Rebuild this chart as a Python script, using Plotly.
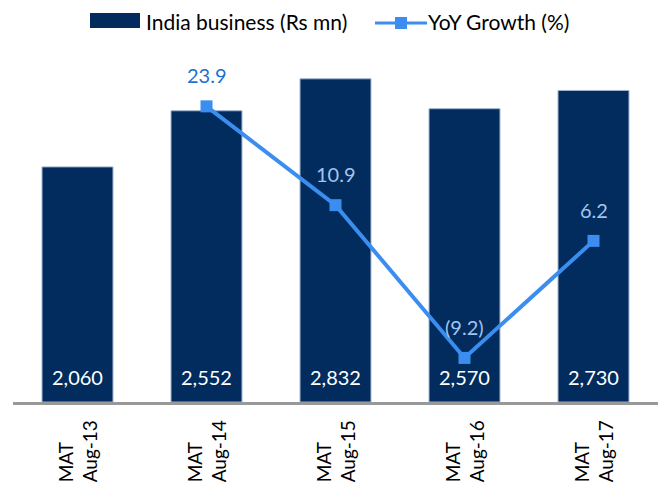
import plotly.graph_objects as go

categories = ["MAT<br>Aug-13", "MAT<br>Aug-14", "MAT<br>Aug-15", "MAT<br>Aug-16", "MAT<br>Aug-17"]
india_business = [2060, 2552, 2832, 2570, 2730]
yoy_growth = [None, 23.9, 10.9, -9.2, 6.2]
bar_name = "India business (Rs mn)"
line_name = "YoY Growth (%)"

NAVY = "#012C5D"
BLUE = "#3B8EEF"
FONT = "Lato"

fig = go.Figure()
fig.add_trace(go.Bar(
    x=categories, y=india_business, name=bar_name,
    marker=dict(color=NAVY, line=dict(color="#9DB3CF", width=1)),
    showlegend=False, hoverinfo="skip",
))
fig.add_trace(go.Scatter(
    x=categories, y=yoy_growth, name=line_name, yaxis="y2",
    mode="lines+markers",
    line=dict(color=BLUE, width=4),
    marker=dict(symbol="square", size=12, color=BLUE),
    showlegend=False, connectgaps=False, hoverinfo="skip",
))

annotations = []
for c, v in zip(categories, india_business):
    annotations.append(dict(x=c, y=0, xref="x", yref="y", text=f"{v:,}", showarrow=False,
                            yshift=25, font=dict(family=FONT, size=20, color="white")))
for i, (c, g) in enumerate(zip(categories, yoy_growth)):
    if g is None:
        continue
    txt = f"({abs(g):.1f})" if g < 0 else f"{g:.1f}"
    col = "#1F6FD3" if i == 1 else "#A3C4EE"
    annotations.append(dict(x=c, y=g, xref="x", yref="y2", text=txt, showarrow=False,
                            yshift=31, font=dict(family=FONT, size=20, color=col)))
for c in categories:
    annotations.append(dict(x=c, y=-0.218, xref="x", yref="paper", text=c, showarrow=False,
                            textangle=-90, align="left", yanchor="bottom",
                            font=dict(family=FONT, size=19, color="black")))

fig.update_layout(
    width=658, height=488,
    margin=dict(l=13, r=0, t=22, b=86),
    paper_bgcolor="white", plot_bgcolor="white",
    bargap=0.45,
    xaxis=dict(showline=True, linecolor="#999999", linewidth=3, showticklabels=False,
               ticks="", showgrid=False, zeroline=False),
    yaxis=dict(range=[0, 3330], visible=False, showgrid=False, zeroline=False),
    yaxis2=dict(range=[-15, 35], overlaying="y", visible=False, showgrid=False, zeroline=False),
    showlegend=False,
)
W, H = 658.0, 488.0
def px(x):
    return (x - 13) / (W - 13)
def py(y):
    return (402 - y) / 380.0
shapes = [
    dict(type="rect", xref="paper", yref="paper", x0=px(90), x1=px(140), y0=py(28), y1=py(13),
         fillcolor=NAVY, line=dict(width=0)),
    dict(type="line", xref="paper", yref="paper", x0=px(375), x1=px(427), y0=py(23), y1=py(23),
         line=dict(color=BLUE, width=3)),
    dict(type="rect", xref="paper", yref="paper", x0=px(395), x1=px(407), y0=py(29), y1=py(17),
         fillcolor=BLUE, line=dict(width=0)),
]
annotations.append(dict(x=px(144), y=py(21), xref="paper", yref="paper", text=bar_name,
                        showarrow=False, xanchor="left", yanchor="middle",
                        font=dict(family=FONT, size=21, color="black")))
annotations.append(dict(x=px(426), y=py(21), xref="paper", yref="paper", text=line_name,
                        showarrow=False, xanchor="left", yanchor="middle",
                        font=dict(family=FONT, size=21, color="black")))
fig.update_layout(annotations=annotations, shapes=shapes)
fig.write_html("out.html", config={"displayModeBar": False},
               post_script="document.body.style.margin='0';document.body.style.padding='0';document.body.style.overflow='hidden';")
